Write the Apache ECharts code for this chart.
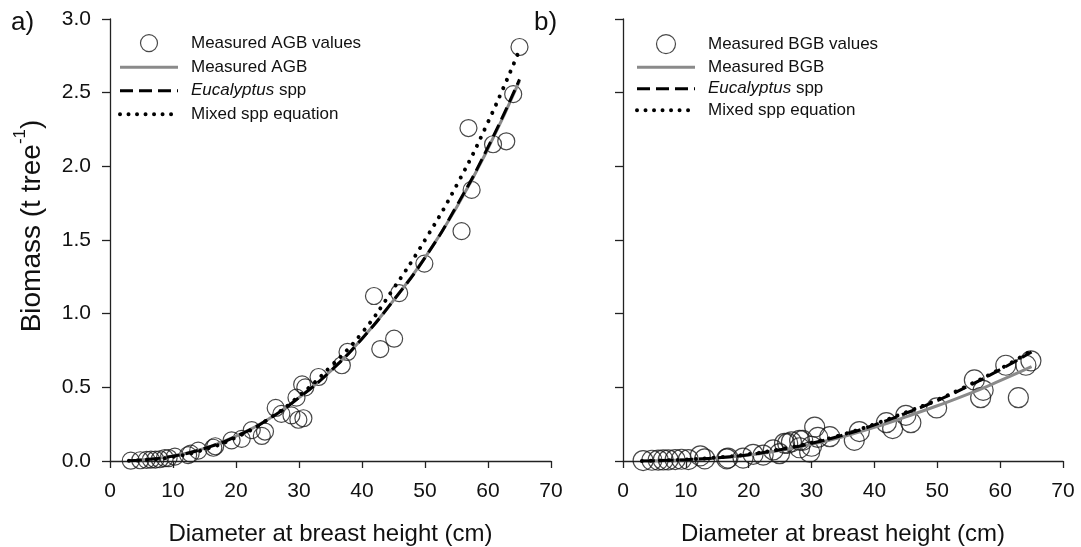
<!DOCTYPE html>
<html><head><meta charset="utf-8">
<script src="https://cdn.jsdelivr.net/npm/echarts@6/dist/echarts.min.js"></script>
<style>html,body{margin:0;padding:0;background:#fff}#c{width:1081px;height:547px}</style>
</head><body><div id="c"></div>
<script>
// ---- data ----
const xTickLabels = ['0','10','20','30','40','50','60','70'];
const yTickLabels = ['0.0','0.5','1.0','1.5','2.0','2.5','3.0'];

// Panel a: measured above-ground biomass (DBH cm, t/tree)
const agbValues = [[3.3,0.002],[4.8,0.005],[5.8,0.008],[6.5,0.01],[7.2,0.01],[7.9,0.012],[8.7,0.02],[9.3,0.02],
  [10.3,0.03],[12.4,0.04],[12.8,0.05],[14.0,0.07],[16.4,0.09],[16.7,0.10],[19.3,0.14],[20.9,0.15],[22.5,0.21],
  [24.1,0.17],[24.6,0.20],[26.3,0.36],[27.2,0.32],[28.8,0.31],[29.6,0.43],[29.9,0.28],[30.7,0.29],[30.5,0.52],
  [31.0,0.50],[33.1,0.57],[36.8,0.65],[37.7,0.74],[41.9,1.12],[42.9,0.76],[45.1,0.83],[45.9,1.14],[49.9,1.34],
  [55.8,1.56],[56.9,2.26],[57.4,1.84],[60.8,2.15],[62.9,2.17],[64.0,2.49],[65.0,2.81]];

// Fitted curves, read at these DBH values
const curveDbh = [3,5,10,15,20,25,30,35,40,45,50,55,60,65];
const agbMeasuredFit = [0.002,0.007,0.034,0.086,0.168,0.28,0.43,0.61,0.83,1.09,1.38,1.72,2.12,2.58];
const agbEucalyptus  = [0.002,0.007,0.033,0.085,0.167,0.28,0.43,0.61,0.83,1.09,1.38,1.73,2.13,2.59];
const agbMixed       = [0.001,0.005,0.028,0.078,0.16,0.28,0.44,0.64,0.87,1.17,1.50,1.87,2.30,2.79];

// Panel b: measured below-ground biomass
const bgbValues = [[3.2,0.003],[4.6,0.005],[5.6,0.006],[6.4,0.007],[7.2,0.008],[8.3,0.01],[9.3,0.012],[10.4,0.01],
  [12.3,0.035],[13.0,0.015],[16.5,0.015],[16.7,0.02],[19.1,0.02],[20.7,0.045],[22.3,0.04],[23.9,0.075],[24.9,0.05],
  [25.7,0.12],[26.2,0.12],[26.8,0.13],[28.1,0.14],[28.1,0.09],[28.6,0.14],[29.7,0.06],[30.0,0.10],[30.5,0.23],
  [31.0,0.16],[32.9,0.165],[36.8,0.14],[37.6,0.20],[41.9,0.26],[42.9,0.22],[45.0,0.31],[45.8,0.26],[49.9,0.36],
  [55.9,0.55],[56.9,0.43],[57.3,0.48],[60.9,0.65],[62.9,0.43],[64.1,0.65],[64.9,0.68]];
const bgbMeasuredFit = [0.0005,0.002,0.009,0.021,0.04,0.072,0.113,0.165,0.228,0.30,0.375,0.455,0.545,0.64];
const bgbEucalyptus  = [0.0005,0.002,0.009,0.022,0.043,0.077,0.12,0.176,0.245,0.325,0.41,0.51,0.62,0.74];
const bgbMixed       = [0.0006,0.0025,0.010,0.024,0.046,0.08,0.124,0.18,0.25,0.33,0.415,0.515,0.625,0.75];

// ---- chart ----
const FF = '"Liberation Sans", Arial, sans-serif';
const pair = (xs, ys) => xs.map((x, i) => [x, ys[i]]);
const chart = echarts.init(document.getElementById('c'), null, {renderer: 'canvas'});

function xAxisDef(idx) {
  return {
    gridIndex: idx, type: 'value', min: 0, max: 70, interval: 10,
    name: 'Diameter at breast height (cm)', nameLocation: 'middle', nameGap: 61,
    nameTextStyle: {fontFamily: FF, fontSize: 24, color: '#111'},
    axisLine: {show: true, onZero: false, lineStyle: {color: '#222', width: 1.3}},
    axisTick: {show: true, inside: false, length: 7, lineStyle: {color: '#222', width: 1.3}},
    axisLabel: {fontFamily: FF, fontSize: 21, color: '#111', margin: 20,
      formatter: v => xTickLabels[Math.round(v / 10)]},
    splitLine: {show: false}
  };
}
function yAxisDef(idx, showLabels) {
  const ax = {
    gridIndex: idx, type: 'value', min: 0, max: 3, interval: 0.5,
    axisLine: {show: true, onZero: false, lineStyle: {color: '#222', width: 1.3}},
    axisTick: {show: true, inside: false, length: 8, lineStyle: {color: '#222', width: 1.3}},
    axisLabel: {show: showLabels, fontFamily: FF, fontSize: 21, color: '#111', margin: 19,
      formatter: v => yTickLabels[Math.round(v / 0.5)]},
    splitLine: {show: false}
  };
  if (showLabels) {
    ax.name = '{n|Biomass (t tree}{s|-1}{n|)}';
    ax.nameLocation = 'middle';
    ax.nameGap = 64;
    ax.nameTextStyle = {padding: [0, 0, 0, 28], rich: {
      n: {fontFamily: FF, fontSize: 28, color: '#111', lineHeight: 34, verticalAlign: 'bottom'},
      s: {fontFamily: FF, fontSize: 17, color: '#111', lineHeight: 34, verticalAlign: 'top'}
    }};
  }
  return ax;
}

const circleStyle = {color: 'rgba(0,0,0,0)', borderColor: '#1a1a1a', borderWidth: 1.2};
const hiddenSymbol = {color: 'rgba(0,0,0,0)', borderColor: 'rgba(0,0,0,0)', borderWidth: 0, opacity: 0};
function lineSeries(name, idx, data, style) {
  return {name, type: 'line', xAxisIndex: idx, yAxisIndex: idx, data, smooth: true,
    symbol: 'none', showSymbol: false, lineStyle: style, itemStyle: {color: style.color},
    z: 3, silent: true, animation: false};
}
const grayStyle = {color: '#8a8a8a', width: 3};
const dashStyle = {color: '#000', width: 3, type: [13, 6]};
const dotStyle = {color: '#000', width: 4, type: [0.01, 9], cap: 'round'};
const legendDot = {color: '#000', width: 4, type: [0.01, 8.5], cap: 'round'};

function legendDef(left, names, circleName, circleH) {
  const styles = [grayStyle, dashStyle, legendDot];
  return {
    orient: 'vertical', left, top: 34, padding: 0, itemWidth: 58, itemHeight: circleH, itemGap: 23.5 - circleH,
    selectedMode: false,
    data: [ {name: circleName, itemStyle: circleStyle},
            ...names.map((n, i) => ({name: n, itemStyle: hiddenSymbol, lineStyle: styles[i]})) ],
    textStyle: {fontFamily: FF, fontSize: 17, color: '#111', padding: [0, 0, 0, 8],
      rich: {i: {fontFamily: FF, fontSize: 17, fontStyle: 'italic', color: '#111'}}},
    formatter: n => n === 'Eucalyptus spp' ? '{i|Eucalyptus} spp' : n
  };
}

const option = {
  backgroundColor: '#fff',
  animation: false,
  grid: [
    {left: 110, width: 441, top: 19, height: 442, outerBoundsMode: 'none', containLabel: false},
    {left: 623, width: 440, top: 19, height: 442, outerBoundsMode: 'none', containLabel: false}
  ],
  xAxis: [xAxisDef(0), xAxisDef(1)],
  yAxis: [yAxisDef(0, true), yAxisDef(1, false)],
  legend: [
    legendDef(118, ['Measured AGB', 'Eucalyptus spp', 'Mixed spp equation'], 'Measured AGB values', 17),
    legendDef(635, ['Measured BGB', 'Eucalyptus spp', 'Mixed spp equation'], 'Measured BGB values', 19)
  ],
  graphic: [
    {type: 'text', left: 11, top: 10, style: {text: 'a)', fontFamily: FF, fontSize: 26, fill: '#111'}},
    {type: 'text', left: 534, top: 10, style: {text: 'b)', fontFamily: FF, fontSize: 26, fill: '#111'}}
  ],
  series: [
    {name: 'Measured AGB values', type: 'scatter', xAxisIndex: 0, yAxisIndex: 0, data: agbValues,
      symbol: 'circle', symbolSize: 17, itemStyle: circleStyle, clip: false, z: 2},
    lineSeries('Measured AGB', 0, pair(curveDbh, agbMeasuredFit), grayStyle),
    lineSeries('Eucalyptus spp', 0, pair(curveDbh, agbEucalyptus), dashStyle),
    lineSeries('Mixed spp equation', 0, pair(curveDbh, agbMixed), dotStyle),
    {name: 'Measured BGB values', type: 'scatter', xAxisIndex: 1, yAxisIndex: 1, data: bgbValues,
      symbol: 'circle', symbolSize: 20, itemStyle: circleStyle, clip: false, z: 2},
    lineSeries('Measured BGB', 1, pair(curveDbh, bgbMeasuredFit), grayStyle),
    lineSeries('Eucalyptus spp', 1, pair(curveDbh, bgbEucalyptus), dashStyle),
    lineSeries('Mixed spp equation', 1, pair(curveDbh, bgbMixed), dotStyle)
  ]
};
chart.setOption(option);
</script></body></html>
